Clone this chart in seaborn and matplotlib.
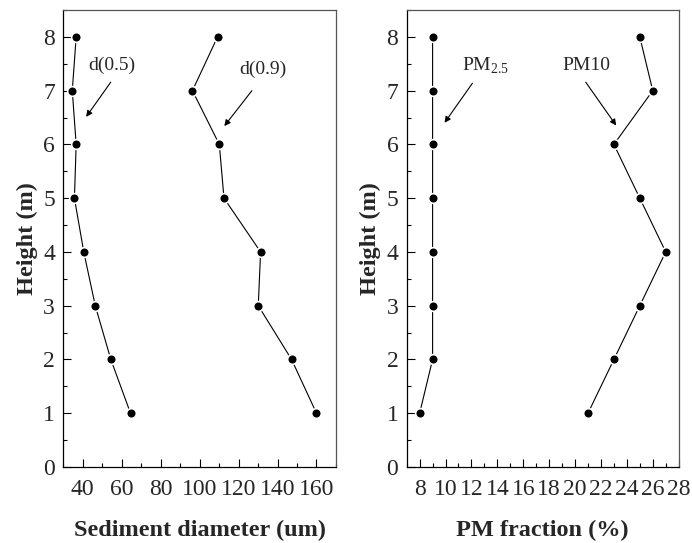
import matplotlib
matplotlib.use("Agg")
import matplotlib.pyplot as plt
import seaborn as sns
import pandas as pd
from matplotlib.ticker import MultipleLocator

heights = [8, 7, 6, 5, 4, 3, 2, 1]
d05 = [36.6, 34.6, 36.6, 35.7, 40.5, 46.4, 54.4, 64.5]
d09 = [109.2, 96.3, 110.1, 112.5, 131.3, 130.1, 147.2, 160.0]
pm25 = [9, 9, 9, 9, 9, 9, 9, 8]
pm10 = [25, 26, 23, 25, 27, 25, 23, 21]

sns.set_theme(style="ticks")
plt.rcParams['font.family'] = ['Liberation Serif', 'DejaVu Serif']
plt.rcParams['mathtext.fontset'] = 'custom'
plt.rcParams['mathtext.rm'] = 'Liberation Serif'

fig = plt.figure(figsize=(6.92, 5.43), dpi=100)
ax1 = fig.add_axes([0.0915, 0.14, 0.394, 0.8416])
ax2 = fig.add_axes([0.5877, 0.14, 0.393, 0.8416])

line_kw = dict(color='black', linewidth=0.8, marker='o', markersize=7,
               markerfacecolor='black', markeredgecolor='white',
               markeredgewidth=1.2, orient='y', sort=False, estimator=None)

df1 = pd.DataFrame({'h': heights, 'd05': d05, 'd09': d09})
sns.lineplot(data=df1, x='d05', y='h', ax=ax1, **line_kw)
sns.lineplot(data=df1, x='d09', y='h', ax=ax1, **line_kw)

df2 = pd.DataFrame({'h': heights, 'pm25': pm25, 'pm10': pm10})
sns.lineplot(data=df2, x='pm25', y='h', ax=ax2, **line_kw)
sns.lineplot(data=df2, x='pm10', y='h', ax=ax2, **line_kw)

ax1.set_xlim(30, 170)
ax2.set_xlim(7, 28)
ax1.set_xticks(range(40, 161, 20))
ax1.xaxis.set_minor_locator(MultipleLocator(10))
ax2.set_xticks(range(8, 29, 2))
ax2.xaxis.set_minor_locator(MultipleLocator(1))

for ax, xl in [(ax1, 'Sediment diameter (um)'), (ax2, 'PM fraction (%)')]:
    ax.set_ylim(0, 8.5)
    ax.set_yticks(range(0, 9))
    ax.yaxis.set_minor_locator(MultipleLocator(0.5))
    ax.set_xlabel(xl, fontsize=17.5, fontweight='bold', labelpad=14)
    ax.set_ylabel('Height (m)', fontsize=17.5, fontweight='bold', labelpad=4)
    ax.tick_params(which='major', direction='in', length=6, width=0.8,
                   labelsize=17, top=False, right=False, color='black')
    ax.tick_params(axis='x', which='major', pad=9)
    ax.tick_params(axis='y', which='major', pad=6)
    ax.tick_params(which='minor', direction='in', length=3, width=0.8,
                   top=False, right=False, color='black')
    for s in ax.spines.values():
        s.set_visible(True)
        s.set_color('black')
        s.set_linewidth(0.9)
    ax.spines['right'].set_color('#555555')
    ax.spines['top'].set_color('#555555')

arrow = dict(arrowstyle='-|>', color='black', lw=0.8, mutation_scale=9)
ax1.annotate('', xy=(40.9, 6.47), xytext=(55.2, 7.2), arrowprops=arrow)
ax1.text(55, 7.47, 'd(0.5)', fontsize=14, ha='center', va='center')
ax1.annotate('', xy=(111.8, 6.3), xytext=(127.7, 7.04), arrowprops=arrow)
ax1.text(132.3, 7.4, 'd(0.9)', fontsize=14, ha='center', va='center')

ax2.annotate('', xy=(9.8, 6.36), xytext=(12.2, 7.18), arrowprops=arrow)
ax2.text(13.1, 7.46, r'PM$_{2.5}$', fontsize=14, ha='center', va='center')
ax2.annotate('', xy=(23.3, 6.31), xytext=(20.7, 7.2), arrowprops=arrow)
ax2.text(20.85, 7.47, 'PM10', fontsize=14, ha='center', va='center')

fig.savefig('out.png', dpi=100)
